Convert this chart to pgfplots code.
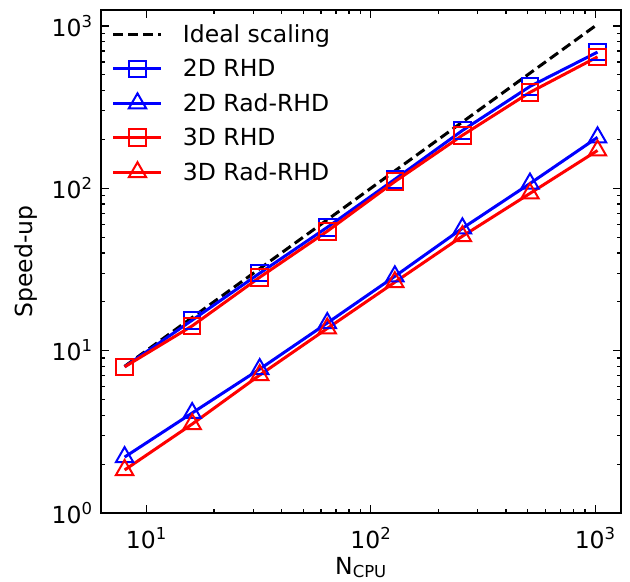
\documentclass[border=0pt]{standalone}
\usepackage{pgfplots}
\pgfplotsset{compat=1.18}
\usepackage{fontspec}
\setmainfont{DejaVu Sans}
\begin{document}
\begin{tikzpicture}
\begin{axis}[
  scale only axis, width=520pt, height=503pt,
  xmode=log, ymode=log,
  xmin=6.28, xmax=1303, ymin=1, ymax=1254,
  font=\fontsize{23.5}{27}\selectfont,
  /pgf/number format/assume math mode=true,
  xtick={10,100,1000},
  xticklabels={10\textsuperscript{1},10\textsuperscript{2},10\textsuperscript{3}},
  ytick={1,10,100,1000},
  yticklabels={10\textsuperscript{0},10\textsuperscript{1},10\textsuperscript{2},10\textsuperscript{3}},
  xticklabel style={yshift=-11pt},
  yticklabel style={xshift=-5pt},
  tick align=inside,
  major tick length=8pt, minor tick length=4.5pt,
  every tick/.style={black, line width=1.2pt},
  axis line style={line width=1.6pt},
  xlabel={N\textsubscript{CPU}},
  ylabel={Speed-up},
  xlabel style={yshift=-1pt},
  ylabel style={yshift=7pt},
  legend cell align=left,
  legend style={draw=none, fill=none, at={(0.015,0.979)}, anchor=north west,
    row sep=11.3pt, font=\fontsize{23.5}{27}\selectfont,
    /tikz/every odd column/.append style={column sep=18pt}},
  legend image code/.code={
    \draw[mark repeat=2, mark phase=2] plot coordinates {(0pt,0pt) (24pt,0pt) (48pt,0pt)};
  },
]
\addplot[black, line width=3pt, dash pattern=on 10pt off 5pt] coordinates {
(8,8) (16,16) (32,32) (64,64) (128,128) (256,256) (512,512) (1024,1024)};
\addlegendentry{Ideal scaling}
\addplot[blue, line width=3pt, mark=square, mark size=8.3pt, mark options={solid, fill=none, line width=2pt}] coordinates {
(8,7.95) (16,15.4) (32,30) (64,57.5) (128,113.6) (256,227) (512,424) (1024,690)};
\addlegendentry{2D RHD}
\addplot[blue, line width=3pt, mark=triangle, mark size=10pt, mark options={solid, fill=none, line width=2pt}] coordinates {
(8,2.21) (16,4.13) (32,7.7) (64,14.8) (128,28.7) (256,56.7) (512,107) (1024,206)};
\addlegendentry{2D Rad-RHD}
\addplot[red, line width=3pt, mark=square, mark size=8.3pt, mark options={solid, fill=none, line width=2pt}] coordinates {
(8,7.95) (16,14.2) (32,28.3) (64,54.4) (128,110) (256,212) (512,390) (1024,645)};
\addlegendentry{3D RHD}
\addplot[red, line width=3pt, mark=triangle, mark size=10pt, mark options={solid, fill=none, line width=2pt}] coordinates {
(8,1.84) (16,3.53) (32,7.07) (64,13.7) (128,26.4) (256,50.7) (512,93) (1024,171)};
\addlegendentry{3D Rad-RHD}
\end{axis}
\path ([xshift=-101pt, yshift=-69pt]current axis.south west) rectangle ([xshift=9pt, yshift=10pt]current axis.north east);
\end{tikzpicture}
\end{document}
